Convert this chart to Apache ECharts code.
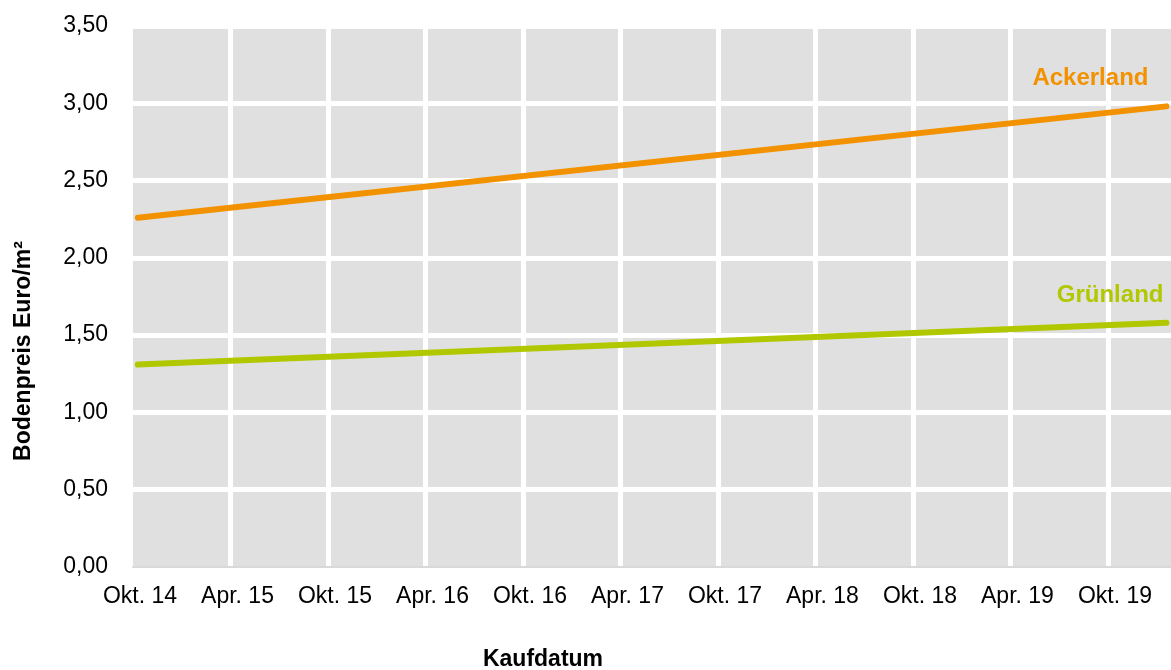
<!DOCTYPE html>
<html>
<head>
<meta charset="utf-8">
<script src="https://cdn.jsdelivr.net/npm/echarts@6/dist/echarts.min.js"></script>
<style>
  html, body { margin: 0; padding: 0; background: #fff; }
  #chart { width: 1171px; height: 670px; }
</style>
</head>
<body>
<div id="chart"></div>
<script>
// Achsenbeschriftung (alle 6 Monate ab Okt. 14)
const tickLabels = ['Okt. 14', 'Apr. 15', 'Okt. 15', 'Apr. 16', 'Okt. 16', 'Apr. 17',
  'Okt. 17', 'Apr. 18', 'Okt. 18', 'Apr. 19', 'Okt. 19']
// Monate seit Okt. 14 (Anfang und Ende der Trendlinie)
const months = [0.3, 63.6]
// Bodenpreis Euro/m²
const ackerland = [2.26, 2.98]
const gruenland = [1.31, 1.58]

const font = 'Arial, "Liberation Sans", sans-serif'

function pairs (ys) {
  return months.map((m, i) => [m, ys[i]])
}

const myChart = echarts.init(document.getElementById('chart'))
const option = {
  animation: false,
  grid: {
    left: 133,
    top: 26,
    bottom: 103,
    right: 0,
    outerBoundsMode: 'none',
    show: true,
    backgroundColor: '#e0e0e0',
    borderWidth: 0
  },
  xAxis: {
    type: 'value',
    min: 0,
    max: 63.88,
    interval: 6,
    axisLine: { show: true, lineStyle: { color: '#d9d9d9', width: 2 } },
    axisTick: { show: false },
    axisLabel: {
      color: '#000',
      fontFamily: font,
      fontSize: 23,
      margin: 18,
      padding: [0, 0, 0, 14],
      showMaxLabel: false,
      formatter: v => (Math.abs(v / 6 - Math.round(v / 6)) < 1e-6 ? tickLabels[Math.round(v / 6)] || '' : '')
    },
    splitLine: { show: true, showMinLine: false, showMaxLine: false, lineStyle: { color: '#fff', width: 5 } }
  },
  yAxis: {
    type: 'value',
    min: 0,
    max: 3.5,
    interval: 0.5,
    axisLine: { show: false },
    axisTick: { show: false },
    axisLabel: {
      color: '#000',
      fontFamily: font,
      fontSize: 23,
      margin: 25,
      formatter: v => v.toFixed(2).replace('.', ',')
    },
    splitLine: { show: true, showMinLine: false, lineStyle: { color: '#fff', width: 5 } }
  },
  graphic: [
    {
      type: 'text',
      x: 543,
      y: 660,
      style: {
        text: 'Kaufdatum',
        font: 'bold 23px ' + font,
        fill: '#000',
        align: 'center',
        verticalAlign: 'middle'
      }
    },
    {
      type: 'text',
      x: 24,
      y: 351,
      rotation: Math.PI / 2,
      style: {
        text: 'Bodenpreis Euro/m²',
        font: 'bold 23px ' + font,
        fill: '#000',
        align: 'center',
        verticalAlign: 'middle'
      }
    }
  ],
  series: [
    {
      name: 'Ackerland',
      type: 'line',
      data: pairs(ackerland),
      showSymbol: false,
      silent: true,
      clip: false,
      lineStyle: { color: '#f39200', width: 6, cap: 'round' },
      itemStyle: { color: '#f39200' },
      endLabel: {
        show: true,
        formatter: '{a}',
        align: 'right',
        verticalAlign: 'middle',
        offset: [-26, -28],
        color: '#f39200',
        fontFamily: font,
        fontWeight: 'bold',
        fontSize: 24
      }
    },
    {
      name: 'Grünland',
      type: 'line',
      data: pairs(gruenland),
      showSymbol: false,
      silent: true,
      clip: false,
      lineStyle: { color: '#b1c800', width: 6, cap: 'round' },
      itemStyle: { color: '#b1c800' },
      endLabel: {
        show: true,
        formatter: '{a}',
        align: 'right',
        verticalAlign: 'middle',
        offset: [-11, -27],
        color: '#b1c800',
        fontFamily: font,
        fontWeight: 'bold',
        fontSize: 24
      }
    }
  ]
}
myChart.setOption(option)
</script>
</body>
</html>
